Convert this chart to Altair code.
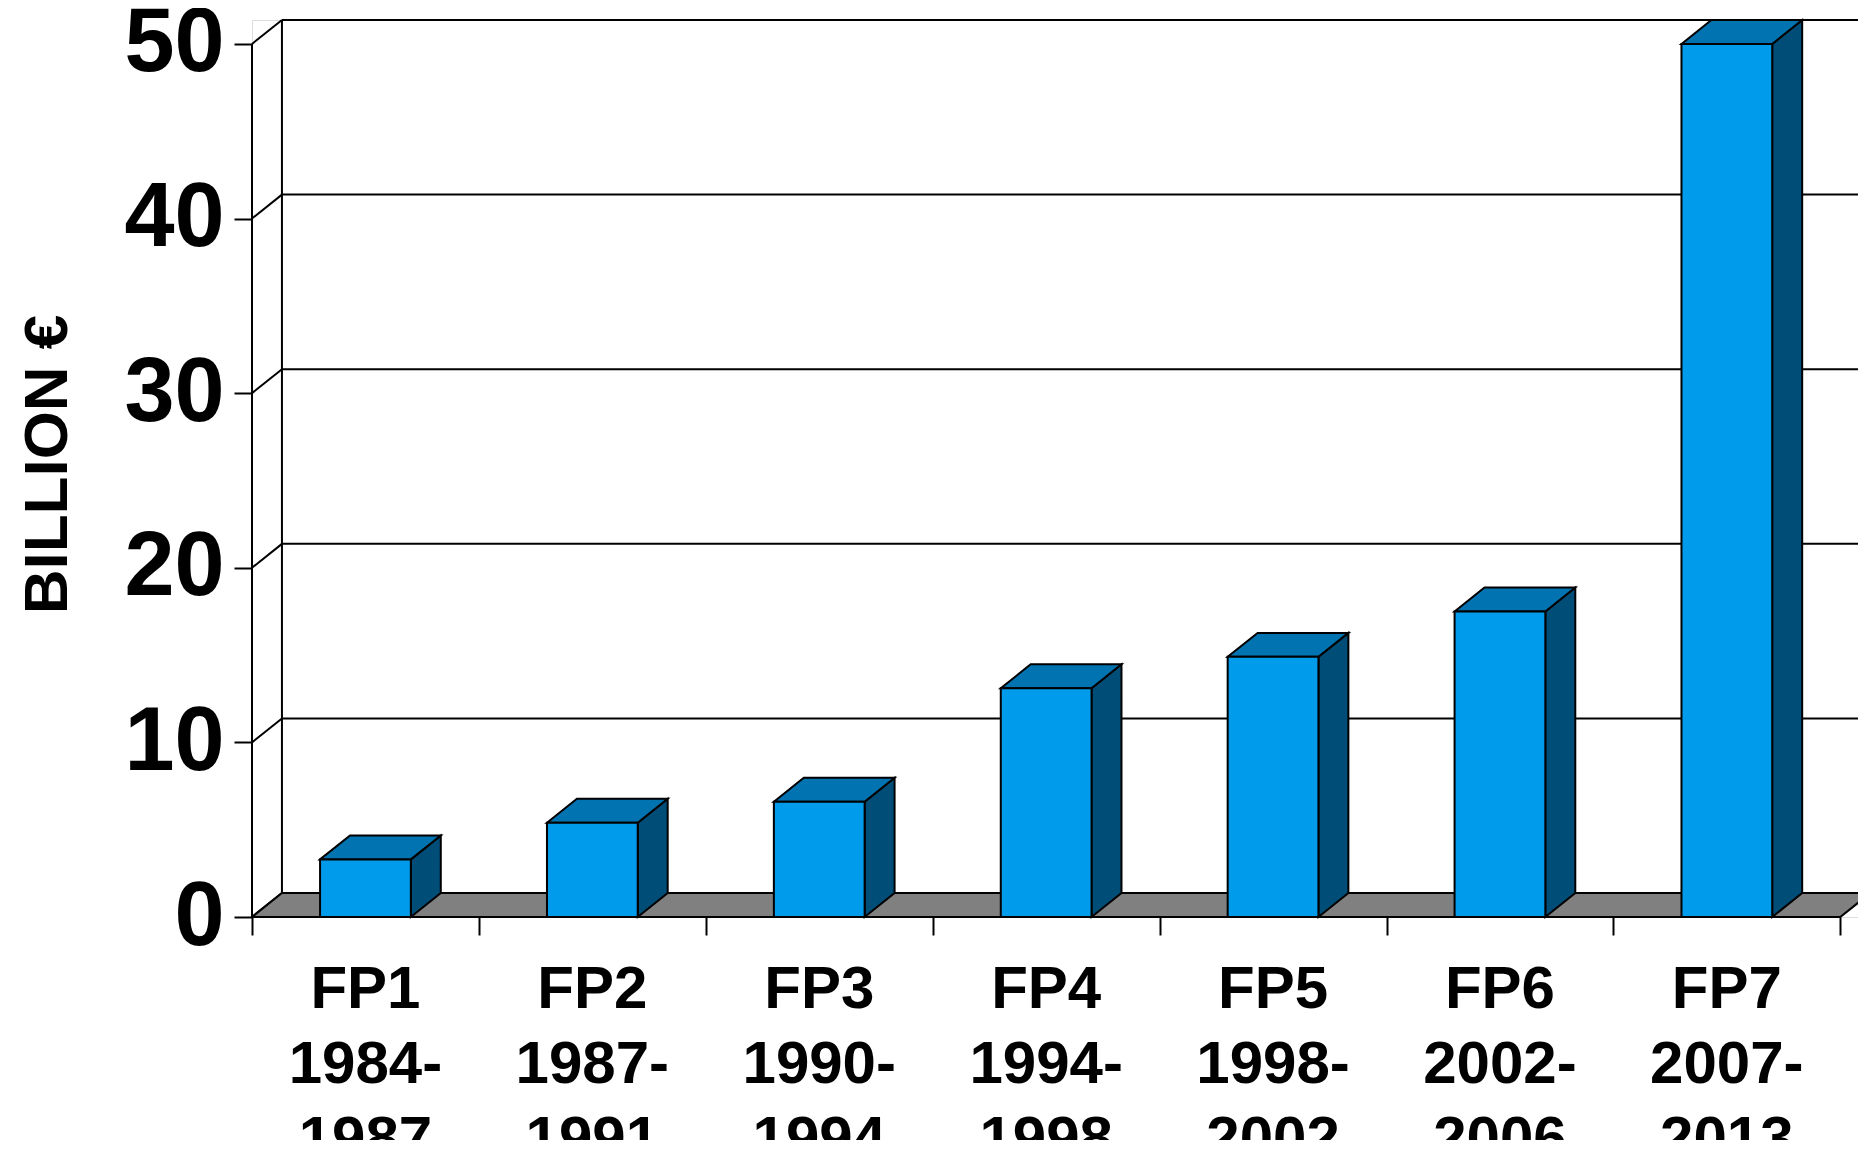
import altair as alt
import pandas as pd

# ---- data ----
programmes = ["FP1", "FP2", "FP3", "FP4", "FP5", "FP6", "FP7"]
starts = ["1984-", "1987-", "1990-", "1994-", "1998-", "2002-", "2007-"]
ends = ["1987", "1991", "1994", "1998", "2002", "2006", "2013"]
budgets = [3.3, 5.4, 6.6, 13.1, 14.9, 17.5, 50.0]
y_ticks = [0, 10, 20, 30, 40, 50]

# ---- 3D look parameters (in data units) ----
DX = 0.132   # depth offset along x
DY = 1.37    # depth offset along y
HALF = 0.2   # half bar width
N = len(programmes)
X_MAX = 7.078
Y_MAX = 51.37
W, H = 1606, 897

FRONT = "#009BEB"
TOP = "#0073B0"
SIDE = "#004D78"
FLOOR = "#808080"
FONT = "Liberation Sans"

xs = alt.Scale(domain=[0, X_MAX], nice=False, zero=False)
ys = alt.Scale(domain=[0, Y_MAX], nice=False, zero=False)

AX_X = alt.Axis(
    values=list(range(N + 1)), labels=False, domain=False, grid=False,
    ticks=True, tickSize=18, tickWidth=2, tickColor="black", title=None,
)
AX_Y = alt.Axis(
    values=y_ticks, domain=False, grid=False, tickSize=18, tickWidth=2,
    tickColor="black", labelFont=FONT, labelFontSize=90,
    labelFontWeight="bold", labelColor="black", labelPadding=10,
    title="BILLION €", titleFont=FONT, titleFontSize=62,
    titleFontWeight="bold", titleColor="black", titleX=-186, titleY=444,
    titleBaseline="alphabetic", titleAngle=270,
)

# front faces
front = pd.DataFrame({
    "x0": [i + 0.5 - HALF for i in range(N)],
    "x1": [i + 0.5 + HALF for i in range(N)],
    "v": budgets,
    "z": [0] * N,
})

top_rows = []
side_rows = []
for i, v in enumerate(budgets):
    x0 = i + 0.5 - HALF
    x1 = i + 0.5 + HALF
    top_rows += [
        {"id": i, "x": x0, "t": v, "b": v},
        {"id": i, "x": x0 + DX, "t": v + DY, "b": v},
        {"id": i, "x": x1, "t": v + DY, "b": v},
        {"id": i, "x": x1 + DX, "t": v + DY, "b": v + DY},
    ]
    side_rows += [
        {"id": i, "x": x1, "t": v, "b": 0},
        {"id": i, "x": x1 + DX, "t": v + DY, "b": DY},
    ]
tops = pd.DataFrame(top_rows)
sides = pd.DataFrame(side_rows)

floor = pd.DataFrame([
    {"x": 0, "t": 0, "b": 0},
    {"x": DX, "t": DY, "b": 0},
    {"x": N, "t": DY, "b": 0},
    {"x": N + DX, "t": DY, "b": DY},
])

rule_rows = []
for k in y_ticks:
    rule_rows.append({"x": DX, "x2": N + DX + 0.2, "y": k + DY, "y2": k + DY})
    rule_rows.append({"x": 0, "x2": DX, "y": k, "y2": k + DY})
rule_rows.append({"x": DX, "x2": DX, "y": DY, "y2": y_ticks[-1] + DY})
rule_rows.append({"x": 0, "x2": 0, "y": 0, "y2": y_ticks[-1]})
rules = pd.DataFrame(rule_rows)

labels = pd.DataFrame({
    "x": [i + 0.5 for i in range(N)],
    "y": [0] * N,
    "txt": [f"{p}\n{s}\n{e}" for p, s, e in zip(programmes, starts, ends)],
})

rule_layer = alt.Chart(rules).mark_rule(color="black", strokeWidth=2).encode(
    x=alt.X("x:Q", scale=xs, axis=AX_X),
    x2="x2:Q",
    y=alt.Y("y:Q", scale=ys, axis=AX_Y),
    y2="y2:Q",
)

area_style = dict(stroke="black", strokeWidth=2, opacity=1, strokeJoin="miter")

floor_layer = alt.Chart(floor).mark_area(fill=FLOOR, **area_style).encode(
    x=alt.X("x:Q", scale=xs, axis=AX_X),
    y=alt.Y("t:Q", scale=ys, axis=AX_Y, stack=None),
    y2="b:Q",
)

side_layer = alt.Chart(sides).mark_area(fill=SIDE, **area_style).encode(
    x=alt.X("x:Q", scale=xs, axis=AX_X),
    y=alt.Y("t:Q", scale=ys, axis=AX_Y, stack=None),
    y2="b:Q",
    detail="id:N",
)

top_layer = alt.Chart(tops).mark_area(fill=TOP, **area_style).encode(
    x=alt.X("x:Q", scale=xs, axis=AX_X),
    y=alt.Y("t:Q", scale=ys, axis=AX_Y, stack=None),
    y2="b:Q",
    detail="id:N",
)

front_layer = alt.Chart(front).mark_rect(
    fill=FRONT, stroke="black", strokeWidth=2
).encode(
    x=alt.X("x0:Q", scale=xs, axis=AX_X),
    x2="x1:Q",
    y=alt.Y("v:Q", scale=ys, axis=AX_Y),
    y2="z:Q",
)

text_layer = alt.Chart(labels).mark_text(
    font=FONT, fontSize=60, fontWeight="bold", color="black",
    baseline="alphabetic", align="center", lineBreak="\n", lineHeight=75, dy=91,
).encode(
    x=alt.X("x:Q", scale=xs, axis=AX_X),
    y=alt.Y("y:Q", scale=ys, axis=AX_Y),
    text="txt:N",
)

chart = alt.layer(
    rule_layer, floor_layer, side_layer, top_layer, front_layer, text_layer
).properties(
    width=W, height=H,
    autosize=alt.AutoSizeParams(type="none"),
    padding={"left": 244, "top": 12, "right": 0, "bottom": 223},
).configure_view(stroke=None).configure(background="white")

chart.save("out.html", embed_options={"renderer": "svg", "actions": False})
